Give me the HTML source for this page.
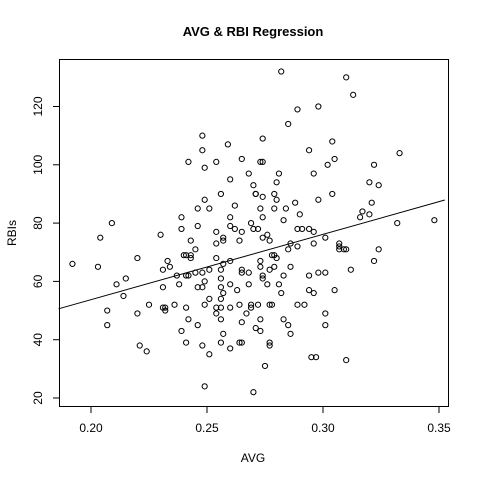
<!DOCTYPE html>
<html><head><meta charset="utf-8"><style>
body{margin:0;background:#fff;}
svg{display:block;font-family:"Liberation Sans",Arial,sans-serif;}
</style></head><body>
<svg id="chart" width="480" height="480" viewBox="0 0 480 480">
<rect width="480" height="480" fill="#fff"/>
<text x="253" y="36" text-anchor="middle" font-size="13" font-weight="bold">AVG &amp; RBI Regression</text>
<text x="253" y="462" text-anchor="middle" font-size="12">AVG</text>
<text x="16" y="233" text-anchor="middle" font-size="12" transform="rotate(-90 16 233)">RBIs</text>
<rect x="59.5" y="59.5" width="389" height="347" fill="none" stroke="#000"/>
<g id="xaxis"></g>
<g id="yaxis"></g>
<g id="pts"></g>
<g id="fit"></g>
</svg>
<script>
const avg = [0.248,0.248,0.259,0.242,0.254,0.249,0.265,0.268,0.260,0.270,0.256,0.249,0.246,0.251,0.262,0.239,0.260,0.209,0.246,0.239,0.260,0.262,0.269,0.254,0.265,
0.282,0.310,0.313,0.289,0.298,0.285,0.274,0.304,0.294,0.333,0.273,0.274,0.305,0.302,0.322,0.281,0.296,0.280,0.320,0.324,0.271,0.271,0.274,0.279,0.280,0.304,0.298,0.288,0.321,0.273,0.279,0.284,0.274,0.290,0.317,0.316,0.320,0.283,0.332,0.348,0.270,0.272,0.289,0.291,0.294,0.296,
0.204,0.230,0.257,0.257,0.254,0.264,0.243,0.245,0.192,0.203,0.220,0.240,0.241,0.243,0.243,0.233,0.234,0.231,0.254,0.257,0.260,0.251,0.256,0.265,0.265,0.268,0.237,0.241,0.242,0.245,0.248,0.215,0.211,0.238,0.249,0.256,0.260,0.268,0.231,0.246,0.248,0.256,0.257,0.263,0.214,0.256,0.249,0.251,0.225,0.236,0.231,0.232,0.232,0.241,0.254,0.256,0.260,0.264,0.269,0.269,0.207,0.220,0.254,0.267,0.242,0.256,0.207,0.246,0.265,0.239,0.257,0.241,0.256,0.264,0.265,0.221,0.224,0.248,0.260,0.251,0.249,0.270,
0.274,0.276,0.277,0.286,0.285,0.289,0.296,0.301,0.307,0.307,0.307,0.309,0.310,0.324,0.322,0.278,0.279,0.280,0.273,0.273,0.277,0.279,0.286,0.312,0.274,0.274,0.283,0.294,0.298,0.301,0.276,0.281,0.282,0.294,0.296,0.305,0.272,0.277,0.278,0.289,0.292,0.301,0.273,0.283,0.285,0.301,0.271,0.273,0.286,0.277,0.277,0.295,0.297,0.310,0.275];
const rbi = [110,105,107,101,101,99,102,97,95,93,90,88,85,85,86,82,82,80,79,78,79,78,80,77,77,
132,130,124,119,120,114,109,108,105,104,101,101,102,100,100,97,97,94,94,93,90,90,89,90,88,90,88,87,87,85,85,85,82,83,84,82,83,81,80,81,78,78,78,78,78,77,
75,76,75,74,73,74,74,71,66,65,68,69,69,69,68,67,65,64,68,66,67,64,64,64,63,63,62,62,62,63,63,61,59,59,60,61,59,59,58,58,58,58,56,57,55,54,52,54,52,52,51,51,50,51,51,51,51,52,52,51,50,49,49,49,47,47,45,45,46,43,42,39,39,39,39,38,36,38,37,35,24,22,
75,76,74,73,71,72,73,75,73,72,71,71,71,71,67,69,69,68,67,65,64,65,65,64,62,61,62,62,63,63,59,59,56,57,56,57,52,52,52,52,52,49,47,47,45,45,44,43,42,39,38,34,34,33,31];
const xTicks = [0.20,0.25,0.30,0.35];
const xTickLabels = ["0.20","0.25","0.30","0.35"];
const yTicks = [20,40,60,80,100,120];
const yTickLabels = ["20","40","60","80","100","120"];

const NS="http://www.w3.org/2000/svg";
const xs = v => 91 + (v-0.2)*2320;
const ys = v => 398 - (v-20)*2.915;
function mk(tag, attrs, parent){const e=document.createElementNS(NS,tag);for(const k in attrs)e.setAttribute(k,attrs[k]);parent.appendChild(e);return e;}
const xa=document.getElementById('xaxis'), ya=document.getElementById('yaxis'), pg=document.getElementById('pts'), fg=document.getElementById('fit');
mk('line',{x1:xs(xTicks[0]),x2:xs(xTicks[xTicks.length-1]),y1:406.5,y2:406.5,stroke:'#000'},xa);
xTicks.forEach((t,i)=>{
  const l=mk('line',{x1:xs(t),x2:xs(t),y1:406.5,y2:413,stroke:'#000'},xa);
  
  
  const tx=mk('text',{x:xs(t),y:432,'text-anchor':'middle','font-size':'12'},xa);
  tx.textContent=xTickLabels[i];
  
  
});
mk('line',{x1:59.5,x2:59.5,y1:ys(yTicks[0]),y2:ys(yTicks[yTicks.length-1]),stroke:'#000'},ya);
yTicks.forEach((t,i)=>{
  const l=mk('line',{x1:53,x2:59.5,y1:ys(t),y2:ys(t),stroke:'#000'},ya);
  
  
  const tx=mk('text',{x:42,y:ys(t),'text-anchor':'middle','font-size':'12',transform:`rotate(-90 42 ${ys(t)})`},ya);
  tx.textContent=yTickLabels[i];
  
  
});
avg.forEach((a,i)=>{
  const c=mk('circle',{cx:xs(a),cy:ys(rbi[i]),r:2.6,fill:'none',stroke:'#000','stroke-width':'1'},pg);
  
  
});
// least squares fit
const n=Math.min(avg.length,rbi.length);
let mx=0,my=0;for(let i=0;i<n;i++){mx+=avg[i];my+=rbi[i];}mx/=n;my/=n;
let sxy=0,sxx=0;for(let i=0;i<n;i++){sxy+=(avg[i]-mx)*(rbi[i]-my);sxx+=(avg[i]-mx)**2;}
const b=sxy/sxx, a0=my-b*mx;
const x0=0.186,x1=0.3525;
const ln=mk('line',{x1:xs(x0),y1:ys(a0+b*x0),x2:xs(x1),y2:ys(a0+b*x1),stroke:'#000','stroke-width':'1'},fg);


</script>
</body></html>
